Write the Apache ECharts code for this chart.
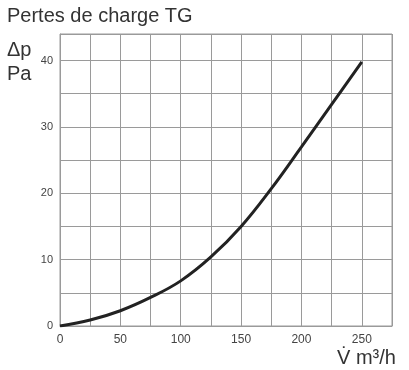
<!DOCTYPE html>
<html>
<head>
<meta charset="utf-8">
<script src="https://cdn.jsdelivr.net/npm/echarts@6/dist/echarts.min.js"></script>
<style>
html,body{margin:0;padding:0;background:#fff;}
#c{width:409px;height:370px;}
</style>
</head>
<body>
<div id="c"></div>
<script>
var flowRates = [0, 25, 50, 75, 100, 125, 150, 175, 200, 225, 250];
var pressureLoss = [0, 0.9, 2.3, 4.3, 6.8, 10.4, 15.0, 20.7, 27.0, 33.4, 39.8];
var xTickLabels = [0, 50, 100, 150, 200, 250];
var yTickLabels = [0, 10, 20, 30, 40];
var titleText = 'Pertes de charge TG';
var yUnitText = 'Δp\nPa';
var xUnitText = 'V\u0307 m³/h';

var chart = echarts.init(document.getElementById('c'), null, {renderer: 'canvas'});
var font = 'Liberation Sans, Arial, Helvetica, sans-serif';
var gridColor = '#9a9a9a';
chart.setOption({
  animation: false,
  backgroundColor: '#fff',
  title: [
    {text: titleText, left: 7, top: 6, padding: 0, textStyle: {fontFamily: font, fontSize: 20, fontWeight: 'normal', color: '#333'}},
    {text: yUnitText, left: 7, top: 38, padding: 0, textStyle: {fontFamily: font, fontSize: 20, fontWeight: 'normal', color: '#333', lineHeight: 24}},
    {text: xUnitText, left: 337, top: 348, padding: 0, textStyle: {fontFamily: font, fontSize: 20, fontWeight: 'normal', color: '#333'}}
  ],
  grid: {left: 60, right: 17, top: 34, bottom: 44, show: true, borderColor: gridColor, borderWidth: 1},
  xAxis: {
    type: 'value', min: 0, max: 275, interval: 25,
    axisLine: {show: true, lineStyle: {color: gridColor, width: 1}},
    axisTick: {show: false},
    splitLine: {show: true, lineStyle: {color: gridColor, width: 1}},
    axisLabel: {
      color: '#444', fontFamily: font, fontSize: 12, margin: 8,
      formatter: function (v) { return xTickLabels.indexOf(v) >= 0 ? String(v) : ''; }
    }
  },
  yAxis: {
    type: 'value', min: 0, max: 44, interval: 5,
    axisLine: {show: true, lineStyle: {color: gridColor, width: 1}},
    axisTick: {show: false},
    splitLine: {show: true, lineStyle: {color: gridColor, width: 1}},
    axisLabel: {
      color: '#444', fontFamily: font, fontSize: 11, margin: 7,
      formatter: function (v) { return yTickLabels.indexOf(v) >= 0 ? String(v) : ''; }
    }
  },
  series: [{
    type: 'line',
    data: flowRates.map(function (x, i) { return [x, pressureLoss[i]]; }),
    smooth: 0.4,
    showSymbol: false,
    lineStyle: {color: '#222', width: 3}
  }]
});
</script>
</body>
</html>
